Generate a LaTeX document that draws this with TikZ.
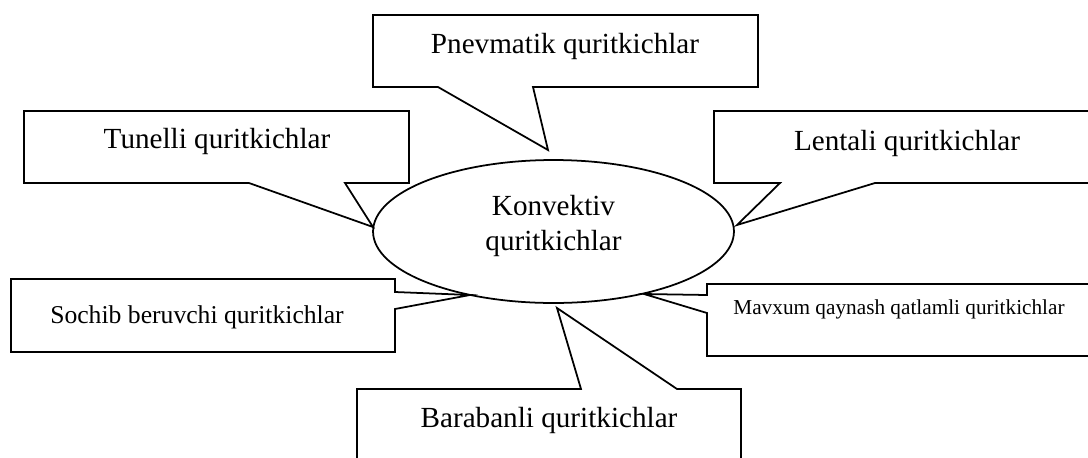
\documentclass[tikz,border=0pt]{standalone}
\usepackage{fontspec}
\setmainfont{Liberation Serif}
\usetikzlibrary{shapes.geometric}

\begin{document}
\begin{tikzpicture}[x=0.02cm,y=-0.02cm,
    callout/.style={draw,line width=1pt},
    caption/.style={anchor=base,font=\fontsize{16.6}{20}\selectfont},
    hub/.style={ellipse,draw,line width=1pt,inner sep=0pt,minimum width=7.22cm,minimum height=2.86cm}
]
\useasboundingbox (0,0) rectangle (1088,457);
\clip (0,0) rectangle (1088,457);
\node[hub] (konv) at (553.5,231.5) {};
\node[align=center,inner sep=0pt,font=\fontsize{16.6}{20}\selectfont] (konvtext) at (553.5,226) {Konvektiv\\quritkichlar};
% callout outlines
\draw[callout] (24,111) -- (409,111) -- (409,183) -- (345,183) -- (373,227) -- (249,183) -- (24,183) -- cycle;
\draw[callout] (373,15) -- (758,15) -- (758,87) -- (533,87) -- (548,150) -- (438,87) -- (373,87) -- cycle;
\draw[callout] (714,111) -- (1099,111) -- (1099,183) -- (875,183) -- (737,225) -- (780,183) -- (714,183) -- cycle;
\draw[callout] (11,279) -- (395,279) -- (395,292) -- (470,295) -- (395,309) -- (395,352) -- (11,352) -- cycle;
\draw[callout] (707,284) -- (1092,284) -- (1092,356) -- (707,356) -- (707,313) -- (644,294) -- (707,295) -- cycle;
\draw[callout] (357,389) -- (581,389) -- (557,308) -- (677,389) -- (741,389) -- (741,461) -- (357,461) -- cycle;
% texts
\node[caption] (tunel) at (217,148.5) {Tunelli quritkichlar};
\node[caption] (pnevm) at (565,53) {Pnevmatik quritkichlar};
\node[caption] (lenta) at (907,150) {Lentali quritkichlar};
\node[caption,font=\fontsize{14.6}{18}\selectfont] (sochib) at (197,323) {Sochib beruvchi quritkichlar};
\node[caption,font=\fontsize{12.1}{15}\selectfont] (mavxum) at (899,314) {Mavxum qaynash qatlamli quritkichlar};
\node[caption] (baraban) at (549,427) {Barabanli quritkichlar};
\end{tikzpicture}
\end{document}
